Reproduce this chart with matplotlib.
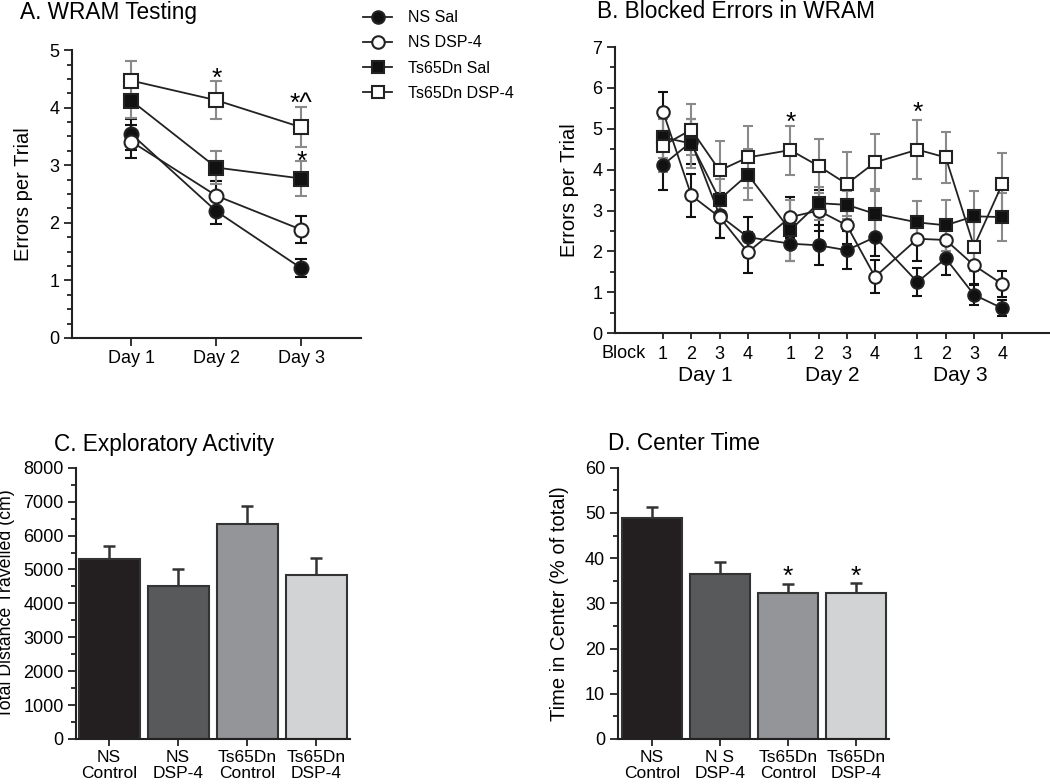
import matplotlib.pyplot as plt
import matplotlib.ticker as ticker
import numpy as np

plt.rcParams['font.family'] = ['Liberation Sans', 'DejaVu Sans']

# ---- data ----
days = ['Day 1', 'Day 2', 'Day 3']
groups = ['NS Sal', 'NS DSP-4', 'Ts65Dn Sal', 'Ts65Dn DSP-4']

# A. WRAM testing, errors per trial by day
wram_ns_sal = [3.54, 2.20, 1.21]
wram_ns_sal_err = [0.27, 0.22, 0.16]
wram_ns_dsp = [3.41, 2.47, 1.88]
wram_ns_dsp_err = [0.29, 0.25, 0.23]
wram_ts_sal = [4.12, 2.96, 2.77]
wram_ts_sal_err = [0.30, 0.28, 0.30]
wram_ts_dsp = [4.47, 4.13, 3.66]
wram_ts_dsp_err = [0.35, 0.33, 0.35]

# B. blocked errors, 4 blocks per day
block_labels = ['1', '2', '3', '4']
blk_ns_sal = [4.12, 4.68, 2.88, 2.35, 2.19, 2.15, 2.03, 2.35, 1.25, 1.83, 0.94, 0.61]
blk_ns_sal_err = [0.62, 0.55, 0.55, 0.49, 0.42, 0.49, 0.46, 0.47, 0.35, 0.40, 0.25, 0.19]
blk_ns_dsp = [5.42, 3.37, 2.84, 1.98, 2.84, 3.00, 2.64, 1.38, 2.31, 2.28, 1.66, 1.20]
blk_ns_dsp_err = [0.47, 0.53, 0.50, 0.50, 0.50, 0.50, 0.45, 0.40, 0.54, 0.50, 0.45, 0.32]
blk_ts_sal = [4.79, 4.64, 3.27, 3.88, 2.52, 3.18, 3.14, 2.92, 2.71, 2.64, 2.86, 2.84]
blk_ts_sal_err = [0.50, 0.60, 0.50, 0.62, 0.75, 0.40, 0.35, 0.60, 0.53, 0.62, 0.62, 0.58]
blk_ts_dsp = [4.59, 4.98, 3.98, 4.30, 4.48, 4.09, 3.65, 4.18, 4.49, 4.30, 2.12, 3.65]
blk_ts_dsp_err = [0.65, 0.62, 0.71, 0.76, 0.60, 0.67, 0.78, 0.70, 0.72, 0.63, 0.60, 0.75]

# C / D. open field
bar_labels_c = ['NS\nControl', 'NS\nDSP-4', 'Ts65Dn\nControl', 'Ts65Dn\nDSP-4']
bar_labels_d = ['NS\nControl', 'N S\nDSP-4', 'Ts65Dn\nControl', 'Ts65Dn\nDSP-4']
distance = [5300, 4510, 6330, 4840]
distance_err = [400, 490, 540, 510]
center_time = [48.9, 36.6, 32.2, 32.2]
center_time_err = [2.5, 2.5, 2.0, 2.2]
bar_colors = ['#231f20', '#58595b', '#939598', '#d1d3d4']

# ---- styles ----
styles = [
    dict(marker='o', mfc='#111111', ms=10),
    dict(marker='o', mfc='white', ms=10),
    dict(marker='s', mfc='#111111', ms=10),
    dict(marker='s', mfc='white', ms=10),
]
err_colors = ['#111111', '#111111', '#8a8a8a', '#8a8a8a']
ink = '#222222'


def style_axes(ax):
    for s in ['top', 'right']:
        ax.spines[s].set_visible(False)
    for s in ['left', 'bottom']:
        ax.spines[s].set_linewidth(1.5)
        ax.spines[s].set_color(ink)
    ax.tick_params(which='both', direction='out', color=ink, width=1.3)
    ax.tick_params(which='major', length=6, labelsize=13, pad=3)
    ax.tick_params(which='minor', length=3.5)


fig = plt.figure(figsize=(10.5, 7.84), dpi=100)

# ---- A ----
axA = fig.add_axes([0.0686, 0.569, 0.275, 0.367])
xA = np.arange(1, len(days) + 1)
wram = [wram_ns_sal, wram_ns_dsp, wram_ts_sal, wram_ts_dsp]
wram_err = [wram_ns_sal_err, wram_ns_dsp_err, wram_ts_sal_err, wram_ts_dsp_err]
handles = []
for i in range(4):
    axA.errorbar(xA, wram[i], yerr=wram_err[i], fmt='none', ecolor=err_colors[i],
                 elinewidth=1.5, capsize=4, capthick=1.5, zorder=2 + i)
for i in range(4):
    ln, = axA.plot(xA, wram[i], color=ink, lw=1.3, mec=ink, mew=1.5,
                   zorder=6 + i, **styles[i])
    handles.append(ln)
axA.set_xlim(0.3, 3.7)
axA.set_ylim(0, 5)
axA.set_xticks(xA, days)
axA.yaxis.set_major_locator(ticker.MultipleLocator(1))
axA.yaxis.set_minor_locator(ticker.MultipleLocator(0.25))
style_axes(axA)
axA.set_ylabel('Errors per Trial', fontsize=14.5)
axA.yaxis.set_label_coords(-0.135, 0.5)
axA.text(2, 4.50, '*', ha='center', va='center', fontsize=19)
axA.text(3, 4.06, '*^', ha='center', va='center', fontsize=19)
axA.text(3, 3.06, '*', ha='center', va='center', fontsize=19)
fig.text(0.019, 1 - 12 / 784, 'A. WRAM Testing', fontsize=16.3, va='center')

fig.legend(handles, groups, loc='upper left', bbox_to_anchor=(0.346, 0.987),
           frameon=False, fontsize=11.5, handlelength=1.8, handletextpad=1.0,
           labelspacing=0.64, borderpad=0, borderaxespad=0, markerscale=0.9)

# ---- B ----
axB = fig.add_axes([0.5857, 0.575, 0.413, 0.365])
xB = np.array([d * 4.5 + b + 1 for d in range(len(days)) for b in range(len(block_labels))])
blk = [blk_ns_sal, blk_ns_dsp, blk_ts_sal, blk_ts_dsp]
blk_err = [blk_ns_sal_err, blk_ns_dsp_err, blk_ts_sal_err, blk_ts_dsp_err]
for i in range(4):
    axB.errorbar(xB, blk[i], yerr=blk_err[i], fmt='none', ecolor=err_colors[i],
                 elinewidth=1.5, capsize=3.5, capthick=1.5, zorder=2 + i)
for i in range(4):
    st = dict(styles[i])
    st['ms'] = 9
    axB.plot(xB, blk[i], color=ink, lw=1.3, mec=ink, mew=1.5, zorder=6 + i, **st)
axB.set_xlim(-0.7, 14.64)
axB.set_ylim(0, 7)
axB.set_xticks(xB, block_labels * len(days))
axB.yaxis.set_major_locator(ticker.MultipleLocator(1))
axB.yaxis.set_minor_locator(ticker.MultipleLocator(0.5))
style_axes(axB)
axB.tick_params(axis='x', which='major', length=4, pad=5)
axB.set_ylabel('Errors per Trial', fontsize=14.5)
axB.yaxis.set_label_coords(-0.082, 0.5)
axB.text(-0.41, -0.072, 'Block', ha='center', va='center', fontsize=13,
         transform=axB.get_xaxis_transform())
for d in range(len(days)):
    xm = np.mean(xB[d * 4:(d + 1) * 4])
    axB.text(xm, -0.148, days[d], ha='center', va='center', fontsize=15,
             transform=axB.get_xaxis_transform())
axB.text(xB[4], 5.15, '*', ha='center', va='center', fontsize=19)
axB.text(xB[8], 5.40, '*', ha='center', va='center', fontsize=19)
fig.text(0.569, 1 - 12 / 784, 'B. Blocked Errors in WRAM', fontsize=16.3, va='center')


# ---- C and D ----
def bar_panel(rect, vals, errs, labels, ylim, major, minor, ylabel, lab_size, lab_x, xlim):
    ax = fig.add_axes(rect)
    xs = np.arange(len(vals))
    ax.bar(xs, vals, width=0.88, color=bar_colors, edgecolor='#333333',
           linewidth=1.5, zorder=2)
    ax.errorbar(xs, vals, yerr=[np.zeros(len(errs)), errs], fmt='none',
                ecolor='#333333', elinewidth=1.8, capsize=4, capthick=1.8, zorder=1)
    ax.set_xlim(*xlim)
    ax.set_ylim(*ylim)
    ax.set_xticks(xs, labels)
    ax.yaxis.set_major_locator(ticker.MultipleLocator(major))
    ax.yaxis.set_minor_locator(ticker.MultipleLocator(minor))
    style_axes(ax)
    ax.tick_params(axis='x', labelsize=12.5, length=5, pad=3)
    for t in ax.get_xticklabels():
        t.set_linespacing(1.1)
    ax.set_ylabel(ylabel, fontsize=lab_size)
    ax.yaxis.set_label_coords(lab_x, 0.5)
    return ax


axC = bar_panel([0.0724, 0.0574, 0.261, 0.346], distance, distance_err, bar_labels_c,
                (0, 8000), 1000, 500, 'Total Distance Travelled (cm)', 12.8, -0.222,
                (-0.48, 3.49))
fig.text(0.0514, 1 - 444 / 784, 'C. Exploratory Activity', fontsize=16.3, va='center')

axD = bar_panel([0.5883, 0.0574, 0.2584, 0.346], center_time, center_time_err,
                bar_labels_d, (0, 60), 10, 5, 'Time in Center (% of total)', 14.5, -0.18,
                (-0.5, 3.49))
for i in [2, 3]:
    axD.text(i, 35.8, '*', ha='center', va='center', fontsize=19)
fig.text(0.579, 1 - 444 / 784, 'D. Center Time', fontsize=16.3, va='center')

fig.savefig('out.png', dpi=100)
